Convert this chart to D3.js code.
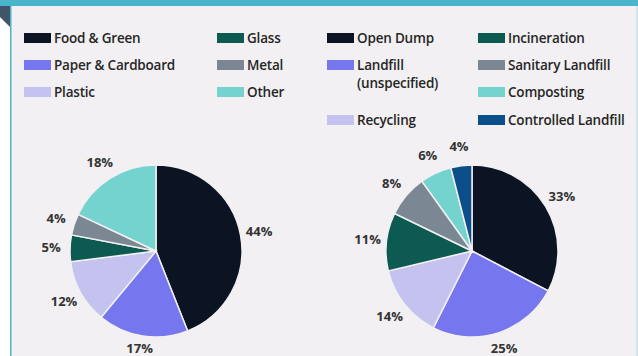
<!DOCTYPE html>
<html>
<head>
<meta charset="utf-8">
<script src="https://cdn.jsdelivr.net/npm/d3@7"></script>
<style>
  html, body { margin: 0; padding: 0; background: #ffffff; }
  svg { display: block; }
  text { font-family: "Open Sans", sans-serif; }
</style>
</head>
<body>
<svg id="chart" width="638" height="356"></svg>
<script>
// waste composition (left pie)
var compCats = ["Food & Green", "Paper & Cardboard", "Plastic", "Glass", "Metal", "Other"];
var compVals = [44, 17, 12, 5, 4, 18];
var compColors = ["#0c1424", "#7676ee", "#c4c3f0", "#0d5a52", "#7b8793", "#74d3cf"];

// treatment / disposal (right pie)
var treatCats = ["Open Dump", "Landfill (unspecified)", "Recycling", "Incineration", "Sanitary Landfill", "Composting", "Controlled Landfill"];
var treatVals = [33, 25, 14, 11, 8, 6, 4];
var treatColors = ["#0c1424", "#7676ee", "#c4c3f0", "#0d5a52", "#7b8793", "#74d3cf", "#0b4e8a"];

var svg = d3.select("#chart");

//frame
svg.append("rect").attr("x", 11).attr("y", 0).attr("width", 625).attr("height", 356).attr("fill", "#f2f0f2");
svg.append("rect").attr("x", 636).attr("y", 0).attr("width", 2).attr("height", 356).attr("fill", "#d3e4ea");
svg.append("rect").attr("x", 10).attr("y", 0).attr("width", 1.5).attr("height", 356).attr("fill", "#4ab4cb");
svg.append("rect").attr("x", 0).attr("y", 0).attr("width", 638).attr("height", 6).attr("fill", "#4ab4cb");
svg.append("path").attr("d", "M0,6L10,6L10,27L0,17Z").attr("fill", "#3f5569");

function legend(g, cats, colors, cols) {
  cats.forEach(function (c, i) {
    var p = cols[i];
    var row = g.append("g").attr("transform", "translate(" + p[0] + "," + p[1] + ")");
    row.append("rect").attr("x", 0).attr("y", -5).attr("width", 27).attr("height", 10).attr("fill", colors[i]);
    var t = row.append("text").attr("x", 30).attr("y", 4.5)
      .attr("font-size", 13.5).attr("font-weight", 600).attr("fill", "#262626")
      .attr("letter-spacing", "-0.2");
    var parts = c.split(" (");
    if (parts.length > 1) {
      t.text(parts[0]);
      row.append("text").attr("x", 30).attr("y", 23)
        .attr("font-size", 13.5).attr("font-weight", 600).attr("fill", "#262626")
        .attr("letter-spacing", "-0.2").text("(" + parts[1]);
    } else {
      t.text(c);
    }
  });
}

legend(svg.append("g"), compCats, compColors,
  [[24, 38], [24, 65], [24, 92], [217, 38], [217, 65], [217, 92]]);
legend(svg.append("g"), treatCats, treatColors,
  [[327, 38], [327, 65], [327, 120], [478, 38], [478, 65], [478, 92], [478, 120]]);

function pieChart(cx, cy, r, vals, colors) {
  var g = svg.append("g").attr("transform", "translate(" + cx + "," + cy + ")");
  var pie = d3.pie().sort(null).value(function (d) { return d; });
  var arc = d3.arc().innerRadius(0).outerRadius(r);
  var lab = d3.arc().innerRadius(r + 19).outerRadius(r + 19);
  var arcs = pie(vals);
  g.selectAll("path").data(arcs).enter().append("path")
    .attr("d", arc)
    .attr("fill", function (d, i) { return colors[i]; })
    .attr("stroke", "#f2f0f2").attr("stroke-width", 1.5);
  g.selectAll("text.lbl").data(arcs).enter().append("text")
    .attr("class", "lbl")
    .attr("transform", function (d) {
      var c = lab.centroid(d);
      return "translate(" + c[0] + "," + Math.min(c[1], 97) + ")";
    })
    .attr("text-anchor", "middle").attr("dy", "0.35em")
    .attr("font-size", 13).attr("font-weight", 700).attr("fill", "#333")
    .text(function (d) { return d.data + "%"; });
}

pieChart(156, 251, 86, compVals, compColors);
pieChart(472, 251, 86, treatVals, treatColors);
</script>
</body>
</html>
